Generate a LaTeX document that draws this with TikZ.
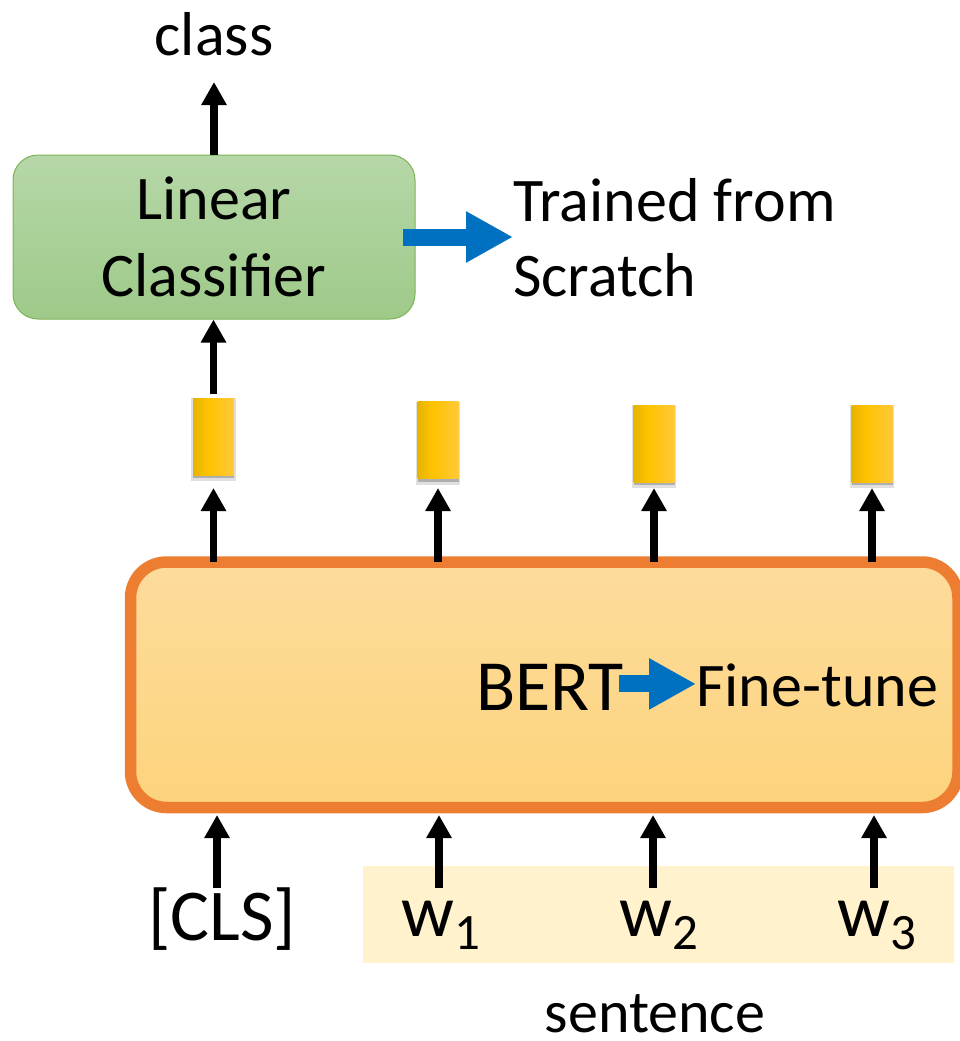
\documentclass[tikz,border=0pt]{standalone}
\usepackage{fontspec}
\setmainfont{Carlito}
\usetikzlibrary{arrows.meta,shadows}
\newcommand\fsz[1]{\fontsize{#1}{#1}\selectfont}
\newcommand\subidx[1]{\raisebox{-13pt}{\fsz{51}#1}}
\definecolor{greenTop}{HTML}{B6D7A8}
\definecolor{greenBot}{HTML}{9ECA89}
\definecolor{greenLine}{HTML}{7DB356}
\definecolor{bertTop}{HTML}{FDDB9C}
\definecolor{bertBot}{HTML}{FDD47C}
\definecolor{bertLine}{HTML}{ED7D31}
\definecolor{myblue}{HTML}{0070C0}
\definecolor{sentbg}{HTML}{FFF2CC}
\definecolor{ydark}{HTML}{E6B400}
\definecolor{ymid}{HTML}{FFC200}
\definecolor{ylight}{HTML}{FFC93A}
\pgfdeclarehorizontalshading{yshade}{100bp}{color(0bp)=(ydark); color(25bp)=(ydark); color(43bp)=(ymid); color(75bp)=(ylight); color(100bp)=(ylight)}
\begin{document}
\begin{tikzpicture}[x=1pt,y=-1pt,
  arr/.style={draw=black,line width=7.5pt,-{Triangle[width=24pt,length=23pt]}},
  bluearr/.style={draw=myblue,line width=17pt,-{Triangle[width=48pt,length=47pt]}},
  greenbox/.style={draw=greenLine,line width=1pt,top color=greenTop,bottom color=greenBot,
    rounded corners=25pt,minimum width=402pt,minimum height=164pt,inner sep=0pt,
    align=center,font={\fontsize{62}{77}\selectfont}},
  bertbox/.style={draw=bertLine,line width=11.5pt,top color=bertTop,bottom color=bertBot,
    rounded corners=36pt,minimum width=827.5pt,minimum height=245.5pt,inner sep=0pt,outer sep=0pt},
  ybox/.style={shading=yshade,
    minimum width=41pt,minimum height=77pt,inner sep=0pt,outer sep=0pt,
    general shadow={shadow yshift=-3pt,shadow scale=1.08,opacity=0.12,fill=black},
    general shadow={shadow yshift=-3pt,opacity=0.22,fill=black}},
  lbl/.style={inner sep=0pt,text=black}
]
\useasboundingbox (0,0) rectangle (959,1041);

% sentence background
\node[fill=sentbg,minimum width=591pt,minimum height=97pt,inner sep=0pt,anchor=north west] (sbg) at (363,866) {};

% BERT box
\node[bertbox] (bert) at (544.25,684.75) {};
\node[lbl,anchor=base west,font=\fsz{72}] (bt) at (476,710) {BERT};
\node[lbl,anchor=base west,font=\fsz{62}] (ft) at (696,706) {Fine-tune};
\draw[bluearr] ([shift={(-5pt,3pt)}]bt.east) -- ([yshift=3pt]bt.east -| ft.west);

% Linear classifier
\node[greenbox] (lc) at (214,237) {Linear\\Classifier};
\node[lbl,anchor=base,font=\fsz{62}] (cls) at (214,56) {class};
\draw[arr] (lc.north) -- ([yshift=-26pt]cls.base);
\node[lbl,anchor=west,align=left,font={\fontsize{62}{75}\selectfont}] (tr) at (513,238) {Trained from\\Scratch};
\draw[bluearr] ([xshift=-13pt]lc.east) -- (lc.east -| tr.west);

% output vectors
\node[ybox] (e0) at (213.5,436.5) {};
\node[ybox] (e1) at (438,440) {};
\node[ybox] (e2) at (654,443.5) {};
\node[ybox] (e3) at (872,443.5) {};
\coordinate (tipline) at (0,488);
\foreach \e in {e0,e1,e2,e3}{
  \draw[arr] (bert.north -| \e) -- (\e |- tipline);
}
\draw[arr] ([yshift=4.5pt]e0.north) -- (e0.north |- lc.south);

% inputs
\node[lbl,anchor=base,font=\fsz{73}] (t0) at (222,940) {[CLS]};
\node[lbl,anchor=base,font=\fsz{74}] (t1) at (441,936) {w\subidx{1}};
\node[lbl,anchor=base,font=\fsz{74}] (t2) at (659,936) {w\subidx{2}};
\node[lbl,anchor=base,font=\fsz{74}] (t3) at (877,936) {w\subidx{3}};
\coordinate (in0) at (217,888);
\coordinate (in1) at (439,888);
\coordinate (in2) at (653,888);
\coordinate (in3) at (874,888);
\foreach \i in {in0,in1,in2,in3}{
  \draw[arr,shorten >=7.5pt] (\i) -- (\i |- bert.south);
}
\node[lbl,anchor=base,font=\fsz{60}] (sent) at (655,1032) {sentence};
\end{tikzpicture}
\end{document}
